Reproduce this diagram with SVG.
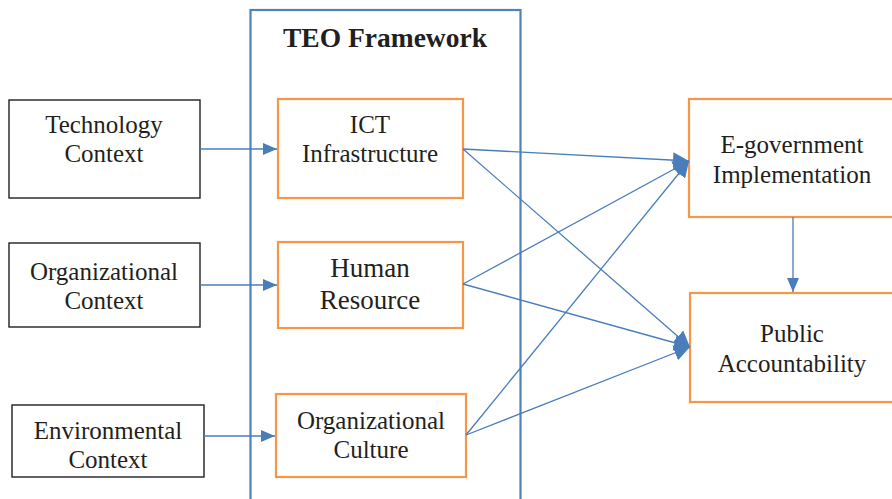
<svg xmlns="http://www.w3.org/2000/svg" width="892" height="499" viewBox="0 0 892 499">
<defs>
<style>
.t{font-family:"Liberation Serif","Times New Roman",serif;font-size:25px;fill:#231f20;text-anchor:middle}
.ctx{fill:#fff;stroke:#231f20;stroke-width:1.4}
.teo{fill:#fff;stroke:#f79646;stroke-width:2.2}
.c{stroke:#4a7ebb;stroke-width:1.3;fill:none}
</style>
<marker id="a" markerUnits="userSpaceOnUse" markerWidth="14" markerHeight="14" viewBox="0 0 14 14" refX="14" refY="7" orient="auto">
<path d="M0,1 L14,7 L0,13 Z" fill="#4a7ebb"/>
</marker>
<marker id="b" markerUnits="userSpaceOnUse" markerWidth="16" markerHeight="18" viewBox="0 0 16 18" refX="16" refY="9" orient="auto">
<path d="M0,1 L16,9 L0,17 Z" fill="#4a7ebb"/>
</marker>
</defs>
<rect width="892" height="499" fill="#fff"/>
<g id="frame">
<rect x="250.5" y="10" width="270" height="500" fill="none" stroke="#4f81bd" stroke-width="2.2"/>
<text x="385" y="47" class="t" style="font-weight:bold;font-size:27.5px">TEO Framework</text>
</g>
<g id="tech"><rect class="ctx" x="9" y="100" width="191" height="98"/><text class="t" x="104" y="133">Technology</text><text class="t" x="104" y="162">Context</text></g>
<g id="org"><rect class="ctx" x="9" y="243" width="191" height="84"/><text class="t" x="104" y="280">Organizational</text><text class="t" x="104" y="309">Context</text></g>
<g id="env"><rect class="ctx" x="12" y="405" width="192" height="72"/><text class="t" x="108" y="439">Environmental</text><text class="t" x="108" y="468">Context</text></g>
<g id="ict"><rect class="teo" x="278" y="99" width="185" height="99"/><text class="t" x="370" y="133">ICT</text><text class="t" x="370" y="162">Infrastructure</text></g>
<g id="hr"><rect class="teo" x="278" y="242" width="185" height="86"/><text class="t" x="370" y="277" style="font-size:27px">Human</text><text class="t" x="370" y="309" style="font-size:27px">Resource</text></g>
<g id="culture"><rect class="teo" x="276" y="394" width="190" height="83"/><text class="t" x="371" y="429">Organizational</text><text class="t" x="371" y="458">Culture</text></g>
<g id="egov"><rect class="teo" x="689" y="99" width="210" height="118"/><text class="t" x="792" y="153">E-government</text><text class="t" x="792" y="183">Implementation</text></g>
<g id="pa"><rect class="teo" x="690" y="293" width="210" height="109"/><text class="t" x="792" y="342">Public</text><text class="t" x="792" y="372">Accountability</text></g>
<g id="connectors">
<line class="c" x1="200" y1="149" x2="277" y2="149" marker-end="url(#a)"/>
<line class="c" x1="200" y1="285" x2="277" y2="285" marker-end="url(#a)"/>
<line class="c" x1="204" y1="436" x2="275" y2="436" marker-end="url(#a)"/>
<line class="c" x1="463" y1="149" x2="689" y2="161" marker-end="url(#b)"/>
<line class="c" x1="463" y1="149" x2="690" y2="347" marker-end="url(#b)"/>
<line class="c" x1="463" y1="284" x2="689" y2="161" marker-end="url(#b)"/>
<line class="c" x1="463" y1="284" x2="690" y2="347" marker-end="url(#b)"/>
<line class="c" x1="466" y1="435" x2="689" y2="161" marker-end="url(#b)"/>
<line class="c" x1="466" y1="435" x2="690" y2="347" marker-end="url(#b)"/>
<line class="c" x1="793" y1="217" x2="793" y2="292" marker-end="url(#a)"/>
</g>
</svg>
